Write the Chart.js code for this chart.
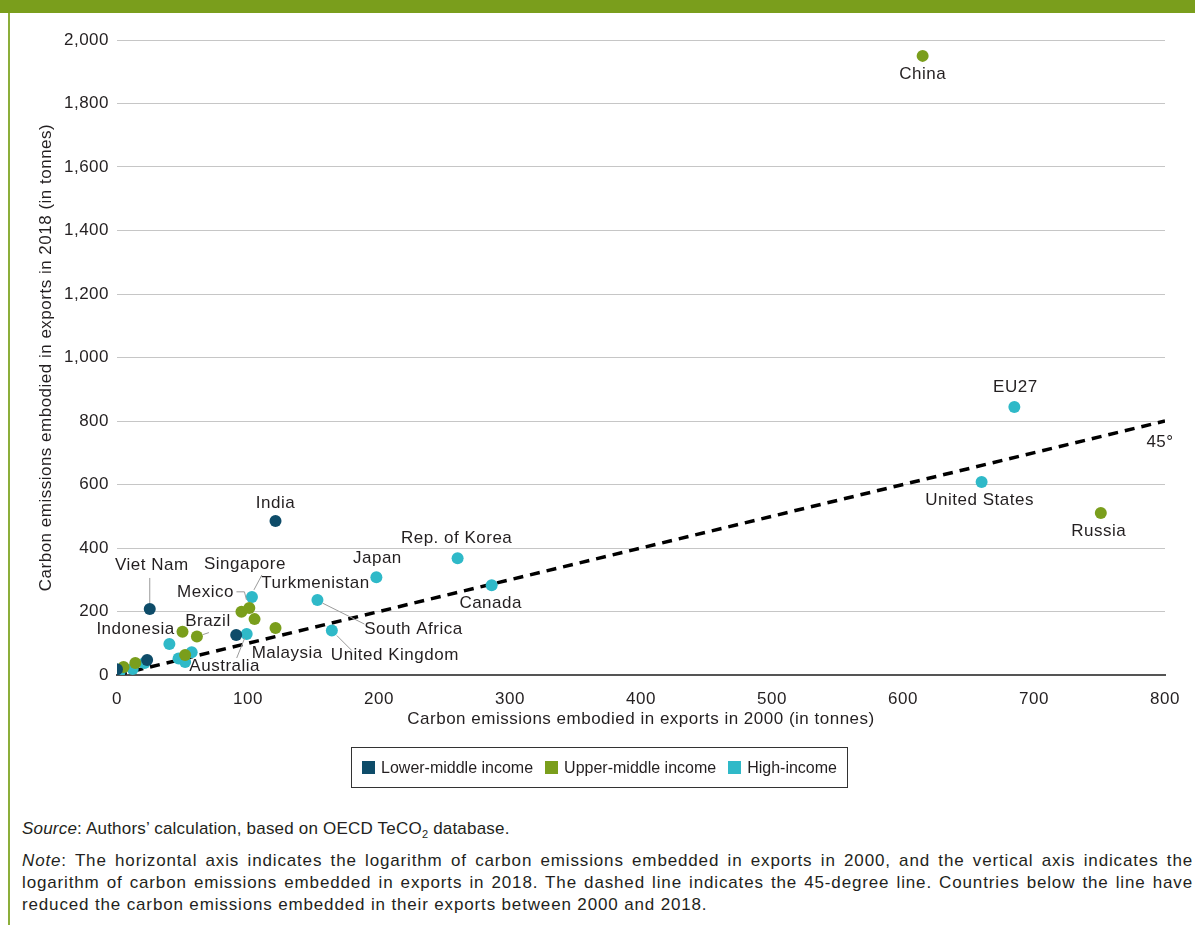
<!DOCTYPE html>
<html lang="en">
<head>
    <meta charset="UTF-8">
    <title>Carbon emissions embodied in exports, 2000 and 2018</title>
    <script src="https://cdn.jsdelivr.net/npm/chart.js"></script>
    <style>
        body {
            margin: 0;
            width: 1195px;
            height: 925px;
            position: relative;
            overflow: hidden;
            background: #fff;
            font-family: "Liberation Sans", Arial, sans-serif;
            color: #231f20;
        }
        #topBar {
            position: absolute; left: 0; top: 0;
            width: 1195px; height: 13px;
            background: #7a9e1c;
        }
        #leftRule {
            position: absolute; left: 8px; top: 13px;
            width: 2px; height: 912px;
            background: #8cae3a;
        }
        #chartBox {
            position: absolute; left: 0; top: 0;
            width: 1195px; height: 748px;
        }
        #legend {
            position: absolute; left: 351px; top: 747px;
            width: 495px; height: 39px;
            border: 1px solid #333;
            display: flex; align-items: center; justify-content: center;
            font-size: 16px;
        }
        #legend span.sw {
            display: inline-block; width: 13px; height: 13px;
            margin: 0 6px 0 0;
        }
        #legend span.item { margin: 0 6px; display: flex; align-items: center; }
        .note {
            position: absolute; left: 22px; width: 1171px;
            font-size: 17px; line-height: 22px;
            letter-spacing: 0.2px;
        }
        .note .ln { display: block; text-align: justify; text-align-last: justify; white-space: nowrap; letter-spacing: 0.85px; }
        .note .ln.last { text-align-last: left; }
    </style>
</head>
<body>
    <div id="topBar"></div>
    <div id="leftRule"></div>
    <div id="chartBox"><canvas id="myChart" width="1195" height="748"></canvas></div>
    <div id="legend"></div>
    <div class="note" style="top:818px;"><i>Source</i>: Authors’ calculation, based on OECD TeCO<sub style="font-size:11px;">2</sub> database.</div>
    <div class="note" style="top:850px;">
        <span class="ln"><i>Note</i>: The horizontal axis indicates the logarithm of carbon emissions embedded in exports in 2000, and the vertical axis indicates the</span>
        <span class="ln">logarithm of carbon emissions embedded in exports in 2018. The dashed line indicates the 45-degree line. Countries below the line have</span>
        <span class="ln last">reduced the carbon emissions embedded in their exports between 2000 and 2018.</span>
    </div>

    <script>
        // groups (legend)
        var groupNames = ['Lower-middle income', 'Upper-middle income', 'High-income'];
        var groupColors = ['#0e4c69', '#7a9e1c', '#2fb9c8'];

        // lower-middle income
        var lowerX = [121, 25, 91, 23, 0];
        var lowerY = [485, 208, 126, 47, 18];
        var lowerNames = ['India', 'Viet Nam', 'Malaysia', '', ''];

        // upper-middle income
        var upperX = [615, 751, 95, 101, 105, 121, 61, 50, 52, 14, 5];
        var upperY = [1950, 510, 199, 211, 176, 148, 121, 136, 63, 38, 25];
        var upperNames = ['China', 'Russia', 'Mexico', '', '', 'Turkmenistan', 'Brazil', 'Indonesia', '', '', ''];

        // high income
        var highX = [685, 660, 260, 198, 286, 153, 164, 103, 99, 40, 47, 52, 57, 2, 12, 21];
        var highY = [844, 608, 368, 308, 283, 236, 140, 246, 129, 98, 52, 41, 72, 10, 19, 38];
        var highNames = ['EU27', 'United States', 'Rep. of Korea', 'Japan', 'Canada', 'South Africa', 'United Kingdom', 'Singapore', 'Australia', '', '', '', '', '', '', ''];

        // 45 degree line
        var diagX = [0, 800];
        var diagY = [0, 800];
        var diagNames = ['', '45°'];

        var xTicks = [0, 100, 200, 300, 400, 500, 600, 700, 800];
        var yTicks = [0, 200, 400, 600, 800, 1000, 1200, 1400, 1600, 1800, 2000];

        // where each label sits relative to its dot (px), plus optional leader line
        var labelLayout = {
            'China': { dx: 0, dy: 18 },
            'Russia': { dx: -2, dy: 18 },
            'EU27': { dx: 1, dy: -20 },
            'United States': { dx: -2, dy: 18 },
            'Rep. of Korea': { dx: -1, dy: -20 },
            'Japan': { dx: 1, dy: -19 },
            'Canada': { dx: -1, dy: 18 },
            'India': { dx: 0, dy: -18 },
            'Viet Nam': { dx: 2, dy: -44, lead: [[0, -31], [0, -6]] },
            'Singapore': { dx: -7, dy: -33, lead: [[10, -22], [2, -7]] },
            'Mexico': { dx: -36, dy: -20, lead: [[-5, -20], [3, -20], [5, -12]] },
            'Brazil': { dx: 11, dy: -15, lead: [[6, -2], [12, -4]] },
            'Indonesia': { dx: -47, dy: -3 },
            'Turkmenistan': { dx: 40, dy: -45 },
            'South Africa': { dx: 96, dy: 29, lead: [[5, 3], [47, 24]] },
            'United Kingdom': { dx: 63, dy: 25, lead: [[5, 5], [20, 20]] },
            'Malaysia': { dx: 51, dy: 18 },
            'Australia': { dx: -22, dy: 32, lead: [[-10, 24], [-2, 4]] },
            '45°': { dx: -5, dy: 21 }
        };

        function toPoints(xs, ys) {
            var pts = [];
            for (var i = 0; i < xs.length; i++) {
                pts.push({ x: xs[i], y: ys[i] });
            }
            return pts;
        }

        // slightly wider type, closer to the original face
        var spacing = {
            id: 'spacing',
            beforeInit: function (chart) { chart.ctx.letterSpacing = '0.5px'; },
            beforeDraw: function (chart) { chart.ctx.letterSpacing = '0.5px'; }
        };

        var pointLabels = {
            id: 'pointLabels',
            afterDatasetsDraw: function (chart) {
                var ctx = chart.ctx;
                ctx.save();
                ctx.letterSpacing = '0.5px';
                ctx.font = '17px "Liberation Sans", Arial, sans-serif';
                ctx.textAlign = 'center';
                ctx.textBaseline = 'middle';
                chart.data.datasets.forEach(function (ds, di) {
                    var meta = chart.getDatasetMeta(di);
                    (ds.names || []).forEach(function (name, i) {
                        if (!name || !labelLayout[name]) return;
                        var p = meta.data[i];
                        var lay = labelLayout[name];
                        if (lay.lead) {
                            ctx.strokeStyle = '#9a9a9a';
                            ctx.lineWidth = 1;
                            ctx.beginPath();
                            lay.lead.forEach(function (q, k) {
                                if (k === 0) ctx.moveTo(p.x + q[0], p.y + q[1]);
                                else ctx.lineTo(p.x + q[0], p.y + q[1]);
                            });
                            ctx.stroke();
                        }
                        ctx.fillStyle = '#231f20';
                        ctx.fillText(name, p.x + lay.dx, p.y + lay.dy);
                    });
                });
                ctx.restore();
            }
        };

        function dotSet(label, xs, ys, names, color) {
            return {
                type: 'scatter',
                label: label,
                data: toPoints(xs, ys),
                names: names,
                backgroundColor: color,
                borderWidth: 0,
                pointRadius: 6,
                pointHoverRadius: 6,
                order: 1
            };
        }

        var font = { family: '"Liberation Sans", Arial, sans-serif', size: 17 };

        var myChart = new Chart(document.getElementById('myChart').getContext('2d'), {
            type: 'scatter',
            data: {
                datasets: [
                    {
                        type: 'line',
                        label: '45°',
                        data: toPoints(diagX, diagY),
                        names: diagNames,
                        borderColor: '#000',
                        borderWidth: 3.5,
                        borderDash: [10, 7],
                        pointRadius: 0,
                        fill: false,
                        order: 2
                    },
                    dotSet(groupNames[0], lowerX, lowerY, lowerNames, groupColors[0]),
                    dotSet(groupNames[1], upperX, upperY, upperNames, groupColors[1]),
                    dotSet(groupNames[2], highX, highY, highNames, groupColors[2])
                ]
            },
            options: {
                responsive: false,
                animation: false,
                layout: { padding: { left: 0, top: 40, right: 30, bottom: 0 } },
                plugins: { legend: { display: false }, tooltip: { enabled: false } },
                scales: {
                    x: {
                        type: 'linear',
                        min: 0, max: 800,
                        afterBuildTicks: function (s) { s.ticks = xTicks.map(function (v) { return { value: v }; }); },
                        afterFit: function (s) { s.height = 73; },
                        grid: { display: false },
                        border: { display: true, color: '#555', width: 2 },
                        ticks: { color: '#231f20', font: font, padding: 6 },
                        title: {
                            display: true,
                            text: 'Carbon emissions embodied in exports in 2000 (in tonnes)',
                            color: '#231f20', font: font,
                            padding: { top: 0, bottom: 18 }
                        }
                    },
                    y: {
                        min: 0, max: 2000,
                        afterBuildTicks: function (s) { s.ticks = yTicks.map(function (v) { return { value: v }; }); },
                        afterFit: function (s) { s.width = 117; },
                        grid: { color: '#c6c6c6', lineWidth: 1, drawTicks: false },
                        border: { display: false },
                        ticks: {
                            color: '#231f20', font: font, padding: 8,
                            callback: function (v) { return v.toLocaleString('en-US'); }
                        },
                        title: {
                            display: true,
                            text: 'Carbon emissions embodied in exports in 2018 (in tonnes)',
                            color: '#231f20', font: font,
                            padding: { top: 36, bottom: 0 }
                        }
                    }
                }
            },
            plugins: [spacing, pointLabels]
        });

        // legend box
        var legend = document.getElementById('legend');
        groupNames.forEach(function (name, i) {
            var item = document.createElement('span');
            item.className = 'item';
            item.innerHTML = '<span class="sw" style="background:' + groupColors[i] + '"></span>' + name;
            legend.appendChild(item);
        });
    </script>
</body>
</html>
